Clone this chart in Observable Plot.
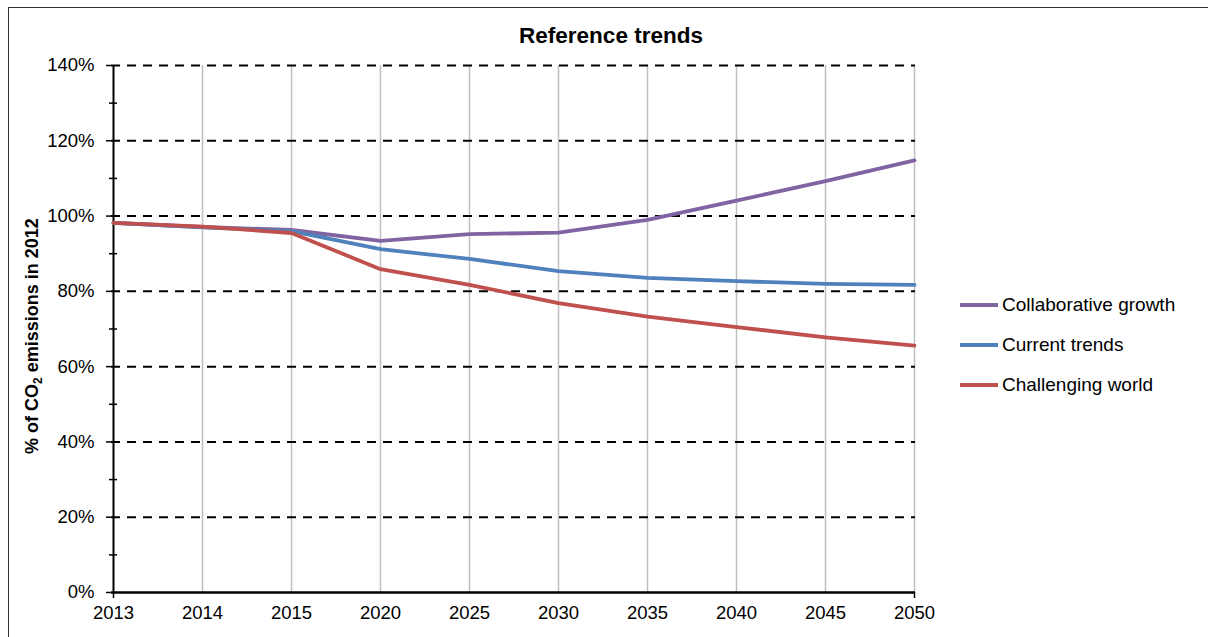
<!DOCTYPE html>
<html>
<head>
<meta charset="utf-8">
<script src="https://cdn.jsdelivr.net/npm/d3@7"></script>
<script src="https://cdn.jsdelivr.net/npm/@observablehq/plot@0.6"></script>
<style>
  html, body { margin: 0; padding: 0; background: #fff; overflow: hidden; }
  #wrap { position: relative; width: 1208px; height: 637px; overflow: hidden; font-family: "Liberation Sans", Arial, sans-serif; color: #000; }
  #frame { position: absolute; left: 8px; top: 7px; width: 1400px; height: 800px; border: 1px solid #333; box-sizing: border-box; }
  #chart { position: absolute; left: 0; top: 0; }
  #title { position: absolute; left: 611px; top: 23px; transform: translateX(-50%); font-weight: bold; font-size: 22.5px; white-space: nowrap; }
  #ylabel { position: absolute; left: 32px; top: 336px; transform: translate(-50%, -50%) rotate(-90deg); font-weight: bold; font-size: 18px; white-space: nowrap; }
  #ylabel sub { font-size: 12px; vertical-align: -4px; line-height: 0; }
  .leg { position: absolute; left: 960px; height: 24px; display: flex; align-items: center; font-size: 19px; white-space: nowrap; }
  .leg span.sw { display: inline-block; width: 38px; height: 4px; margin-right: 4px; }
</style>
</head>
<body>
<div id="wrap">
  <div id="frame"></div>
  <div id="chart"></div>
  <div id="title">Reference trends</div>
  <div id="ylabel">% of CO<sub>2</sub> emissions in 2012</div>
  <div id="legend"></div>
</div>
<script>
const years = ["2013","2014","2015","2020","2025","2030","2035","2040","2045","2050"];
const collaborative = [98.2, 97.1, 96.3, 93.4, 95.2, 95.6, 99.0, 104.1, 109.3, 114.8];
const current       = [98.2, 97.0, 96.0, 91.2, 88.6, 85.4, 83.6, 82.7, 82.0, 81.7];
const challenging   = [98.2, 97.2, 95.5, 85.9, 81.7, 76.9, 73.3, 70.5, 67.8, 65.6];
const seriesNames = ["Collaborative growth", "Current trends", "Challenging world"];
const seriesColors = ["#8064A2", "#4F81BD", "#C0504D"];
const yTicks = [0, 20, 40, 60, 80, 100, 120, 140];
const yMinor = [10, 30, 50, 70, 90, 110, 130];

const seriesValues = [collaborative, current, challenging];
const data = [];
seriesNames.forEach((name, s) => {
  years.forEach((yr, i) => data.push({series: name, year: yr, value: seriesValues[s][i]}));
});

const chart = Plot.plot({
  width: 1208,
  height: 637,
  marginLeft: 111,
  marginRight: 293,
  marginTop: 65,
  marginBottom: 45,
  style: {fontFamily: "'Liberation Sans', Arial, sans-serif", fontSize: "18.5px", color: "#000", background: "transparent"},
  x: {type: "point", domain: years, padding: 0},
  y: {domain: [0, 140]},
  color: {domain: seriesNames, range: seriesColors},
  marks: [
    Plot.ruleX(years.slice(1), {stroke: "#c0c0c0", strokeWidth: 1.5}),
    Plot.ruleY(yTicks.slice(1), {stroke: "#000", strokeWidth: 2, strokeDasharray: "9,7"}),
    Plot.ruleX([years[0]], {stroke: "#000", strokeWidth: 2}),
    Plot.ruleY([0], {stroke: "#000", strokeWidth: 2.5}),
    Plot.ruleY(yMinor, {x1: () => years[0], x2: () => years[0], insetLeft: -4, insetRight: -4, stroke: "#000", strokeWidth: 1.5}),
    Plot.ruleX([years[0], years[years.length - 1]], {y1: () => 0, y2: () => 0, insetTop: 0, insetBottom: -6, stroke: "#000", strokeWidth: 1.5}),
    Plot.axisY(yTicks, {tickSize: 5, tickPadding: 12, tickFormat: d => d + "%", label: null, strokeWidth: 1.5}),
    Plot.axisX(years, {tickSize: 0, tickPadding: 13, label: null}),
    Plot.lineY(data, {x: "year", y: "value", stroke: "series", strokeWidth: 3.8, strokeLinejoin: "round", strokeLinecap: "round"})
  ]
});
document.getElementById("chart").appendChild(chart);

const legend = document.getElementById("legend");
const legendY = [305, 345, 385];
seriesNames.forEach((name, i) => {
  const d = document.createElement("div");
  d.className = "leg";
  d.style.top = (legendY[i] - 12) + "px";
  d.innerHTML = `<span class="sw" style="background:${seriesColors[i]}"></span>${name}`;
  legend.appendChild(d);
});
</script>
</body>
</html>
